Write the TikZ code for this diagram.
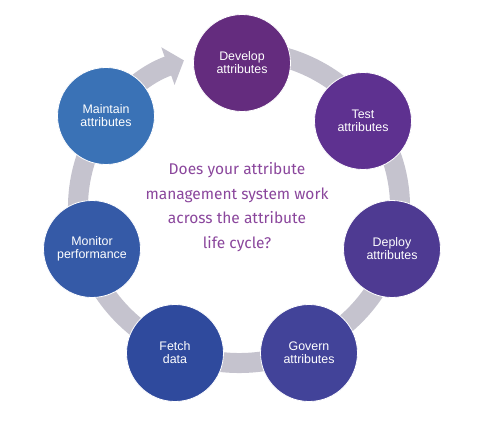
\documentclass[tikz,border=0pt]{standalone}
\usepackage{fontspec}
\setmainfont{Liberation Sans}
\newfontfamily\questionfont{Fira Sans}
\usetikzlibrary{arrows.meta}
\definecolor{RingGrey}{RGB}{197,195,206}
\definecolor{QuestionPurple}{RGB}{138,70,156}
\definecolor{StageA}{RGB}{100,44,126}
\definecolor{StageB}{RGB}{94,49,144}
\definecolor{StageC}{RGB}{78,58,146}
\definecolor{StageD}{RGB}{66,67,153}
\definecolor{StageE}{RGB}{47,74,157}
\definecolor{StageF}{RGB}{53,90,167}
\definecolor{StageG}{RGB}{58,114,182}
\tikzset{
  stage/.style={circle,draw=white,line width=0.8pt,minimum size=97pt,
    inner sep=0pt,text width=84pt,align=center,text=white,
    font=\fontsize{12.4}{13}\selectfont},
  ring/.style={line width=20pt,RingGrey,
    -{Triangle[length=17pt,width=39pt]}},
  question/.style={align=center,text=QuestionPurple,
    font=\questionfont\fontsize{15.5}{24.6}\selectfont}
}
\begin{document}
\begin{tikzpicture}[x=1pt,y=1pt]
  \useasboundingbox (0,0) rectangle (484,426);
  \coordinate (hub) at (239,219);
  \draw[ring] ([shift={(80:161 and 156)}]hub)
    arc[start angle=80,end angle=-250,x radius=161,y radius=156];
  \node[stage,fill=StageA] (develop) at (242,363) {Develop\\attributes};
  \node[stage,fill=StageB] (test) at (363,305) {Test\\attributes};
  \node[stage,fill=StageC] (deploy) at (392,177) {Deploy\\attributes};
  \node[stage,fill=StageD] (govern) at (309,73) {Govern\\attributes};
  \node[stage,fill=StageE] (fetch) at (175,73) {Fetch\\data};
  \node[stage,fill=StageF] (monitor) at (92,177) {Monitor\\performance};
  \node[stage,fill=StageG] (maintain) at (106,310) {Maintain\\attributes};
  \node[question] (ask) at (237,219) {Does your attribute\\management system work\\across the attribute\\life cycle?};
\end{tikzpicture}
\end{document}
